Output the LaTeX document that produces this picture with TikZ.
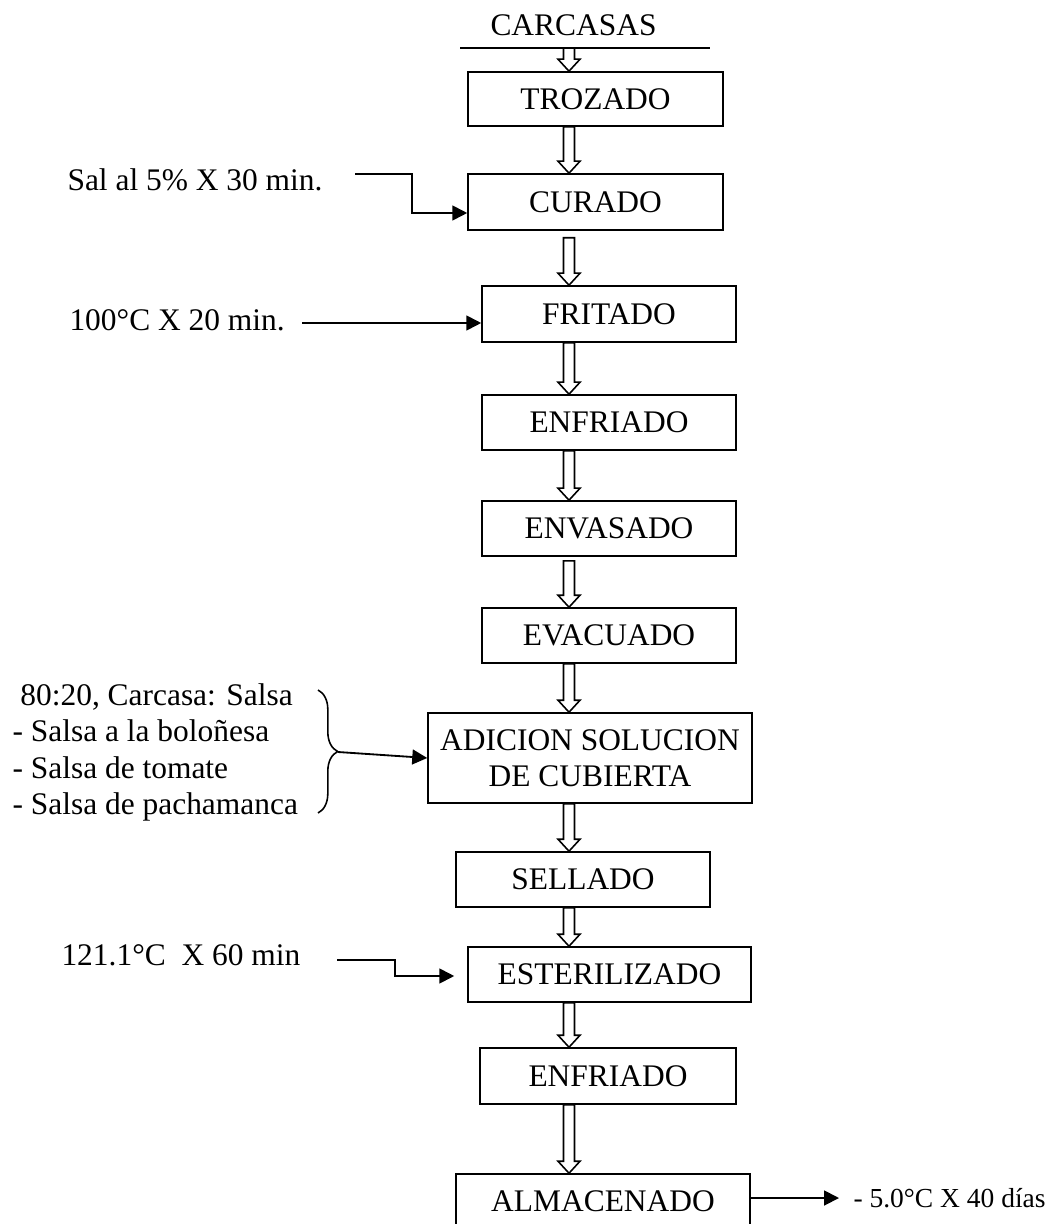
\documentclass[tikz,border=0pt]{standalone}
\usepackage{fontspec}
\setmainfont{Liberation Serif}
\usetikzlibrary{calc,arrows.meta,decorations.pathreplacing}
\newcommand{\px}{0.3817pt}
\newcommand{\flecha}[3][0]{%
\draw[line width=0.6pt] ($(#2)+(-5.5,#1)$) -- ($(#3)+(-5.5,-12)$) -- ($(#3)+(-11,-12)$) -- (#3)
-- ($(#3)+(11,-12)$) -- ($(#3)+(5.5,-12)$) -- ($(#2)+(5.5,#1)$) -- cycle;}
\begin{document}
\begin{tikzpicture}[x=\px,y=-\px,
every node/.style={font=\fontsize{12}{13.9}\selectfont},
etapa/.style 2 args={draw,line width=0.6pt,minimum width=#1*\px,minimum height=#2*\px,inner sep=0pt,align=center},
texto/.style={anchor=west,inner sep=0pt},
entrada/.style={line width=0.7pt,-{Triangle[length=5.7pt,width=5.7pt]}}]
\useasboundingbox (0,0) rectangle (1047,1224);
\coordinate (eje) at (569,0);
\node (carcasas) at (573.5,25) {CARCASAS};
\draw[line width=0.6pt] (460,48) -- (710,48);
\coordinate (linea) at (569,48);
\node[etapa={255}{54}] (trozado) at (595.5,99) {TROZADO};
\node[etapa={255}{56}] (curado) at (595.5,202) {CURADO};
\node[etapa={254}{56}] (fritado) at (609,314) {FRITADO};
\node[etapa={254}{55}] (enfriado) at (609,422.5) {ENFRIADO};
\node[etapa={254}{55}] (envasado) at (609,528.5) {ENVASADO};
\node[etapa={254}{55}] (evacuado) at (609,635.5) {EVACUADO};
\node[etapa={324}{90}] (adicion) at (590,758) {ADICION SOLUCION\\DE CUBIERTA};
\node[etapa={254}{55}] (sellado) at (583,879.5) {SELLADO};
\node[etapa={283}{55}] (esteril) at (609.5,974.5) {ESTERILIZADO};
\node[etapa={256}{56}] (enfriadob) at (608,1076) {ENFRIADO};
\node[etapa={294}{54}] (almacen) at (603,1201) {ALMACENADO};
\flecha{linea}{trozado.north -| eje}
\flecha{trozado.south -| eje}{curado.north -| eje}
\flecha[7]{curado.south -| eje}{fritado.north -| eje}
\flecha{fritado.south -| eje}{enfriado.north -| eje}
\flecha{enfriado.south -| eje}{envasado.north -| eje}
\flecha[4]{envasado.south -| eje}{evacuado.north -| eje}
\flecha{evacuado.south -| eje}{adicion.north -| eje}
\flecha{adicion.south -| eje}{sellado.north -| eje}
\flecha{sellado.south -| eje}{esteril.north -| eje}
\flecha{esteril.south -| eje}{enfriadob.north -| eje}
\flecha{enfriadob.south -| eje}{almacen.north -| eje}
\node[texto] (sal) at (67,180) {Sal al 5\% X 30 min.};
\coordinate (salini) at (355,174);
\draw[entrada] (salini) -- ++(57,0) |- ($(curado.west)+(0,11)$);
\node[texto] (fritura) at (69,320) {100°C X 20 min.};
\coordinate (friini) at (302,323);
\draw[entrada] (friini) -- ($(fritado.west)+(0,9)$);
\node[texto,align=left] (salsas) at (12,752.5) {\hspace*{3pt}80:20, Carcasa: Salsa\\- Salsa a la boloñesa\\- Salsa de tomate\\- Salsa de pachamanca};
\draw[line width=0.6pt,decorate,decoration={brace,amplitude=7.5pt}] (318,690) -- (318,813);
\coordinate (llave) at (338,752);
\draw[entrada] (llave) -- (adicion.west);
\node[texto] (esterilizado) at (61,955) {121.1°C\ \ X 60 min};
\coordinate (estini) at (337,960);
\draw[entrada] (estini) -- ++(58,0) |- ($(esteril.west)+(-13,1.5)$);
\node[texto,font=\fontsize{10.5}{12}\selectfont] (dias) at (853,1198) {- 5.0°C X 40 días};
\draw[entrada] (almacen.east |- dias) -- ($(dias.west)+(-14,0)$);
\end{tikzpicture}
\end{document}
